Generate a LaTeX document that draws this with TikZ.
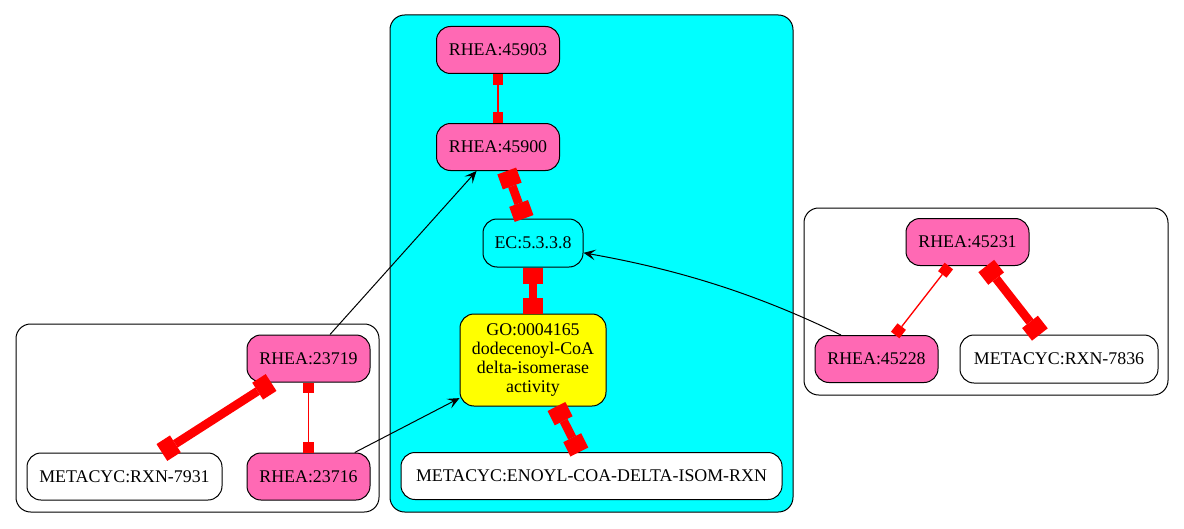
\documentclass[tikz,border=0pt]{standalone}
\usepackage{fontspec}
\setmainfont{Liberation Serif}
\usetikzlibrary{arrows.meta}

\definecolor{rheapink}{HTML}{FF69B4}
\definecolor{clustercyan}{HTML}{00FFFF}
\definecolor{goyellow}{HTML}{FFFF00}
\definecolor{linkred}{HTML}{FF0000}

\tikzset{
  term/.style={draw=black, line width=0.75pt, rounded corners=10.5pt,
    minimum height=35.25pt, inner sep=0pt,
    font=\fontsize{13.4}{14.25}\selectfont},
  rhea/.style={term, fill=rheapink, minimum width=92.25pt},
  plain/.style={term, fill=white},
  clusterbox/.style={draw=black, line width=0.75pt, rounded corners=11pt},
  weakbox/.style={linkred, line width=1pt,
    {Square[length=8pt,width=8pt,line width=0pt]}-{Square[length=8pt,width=8pt,line width=0pt]}},
  strongbox/.style={linkred, line width=6.5pt,
    {Square[length=12pt,width=15pt,line width=0pt]}-{Square[length=12pt,width=15pt,line width=0pt]}},
  link/.style={black, line width=0.75pt, -{Stealth[length=9pt,width=8pt,inset=4pt]}}
}

\begin{document}
\begin{tikzpicture}[x=0.75pt,y=-0.75pt]
\useasboundingbox (0,0) rectangle (1184,528);

% clusters
\draw[clusterbox] (16,324) rectangle (379,512);
\draw[clusterbox, fill=clustercyan] (390,15) rectangle (793,512);
\draw[clusterbox] (804,208) rectangle (1168,395);

% centre cluster
\node[rhea] (r45903) at (498,50) {RHEA:45903};
\node[rhea] (r45900) at (498,147) {RHEA:45900};
\node[term, fill=clustercyan, minimum width=75pt, minimum height=36pt] (ec) at (533,243) {EC:5.3.3.8};
\node[term, fill=goyellow, minimum width=109.5pt, minimum height=69pt, align=center] (go) at (533,360)
  {GO:0004165\\dodecenoyl-CoA\\delta-isomerase\\activity};
\node[plain, minimum width=285.75pt] (enoyl) at (591.5,476) {METACYC:ENOYL-COA-DELTA-ISOM-RXN};

% left cluster
\node[rhea] (r23719) at (308.5,358.5) {RHEA:23719};
\node[plain, minimum width=146.25pt] (rxn7931) at (124.5,476.5) {METACYC:RXN-7931};
\node[rhea] (r23716) at (308.5,476.5) {RHEA:23716};

% right cluster
\node[rhea] (r45231) at (967.5,242) {RHEA:45231};
\node[rhea] (r45228) at (876.5,359) {RHEA:45228};
\node[plain, minimum width=148.5pt, minimum height=36pt] (rxn7836) at (1059,359) {METACYC:RXN-7836};

% red links
\draw[weakbox] (r45903) -- (r45900);
\draw[strongbox] (r45900) -- (ec);
\draw[strongbox] (ec) -- (go);
\draw[strongbox] (go) -- (enoyl);
\draw[strongbox] (r23719) -- (rxn7931);
\draw[weakbox] (r23719) -- (r23716);
\draw[weakbox] (r45231) -- (r45228);
\draw[strongbox] (r45231) -- (rxn7836);

% black arrows
\draw[link] (r23719) -- (r45900);
\draw[link] (r23716) -- (go);
\draw[link] (r45228.146) to[out=154,in=-10,looseness=0.9] (ec.-11);
\end{tikzpicture}
\end{document}
